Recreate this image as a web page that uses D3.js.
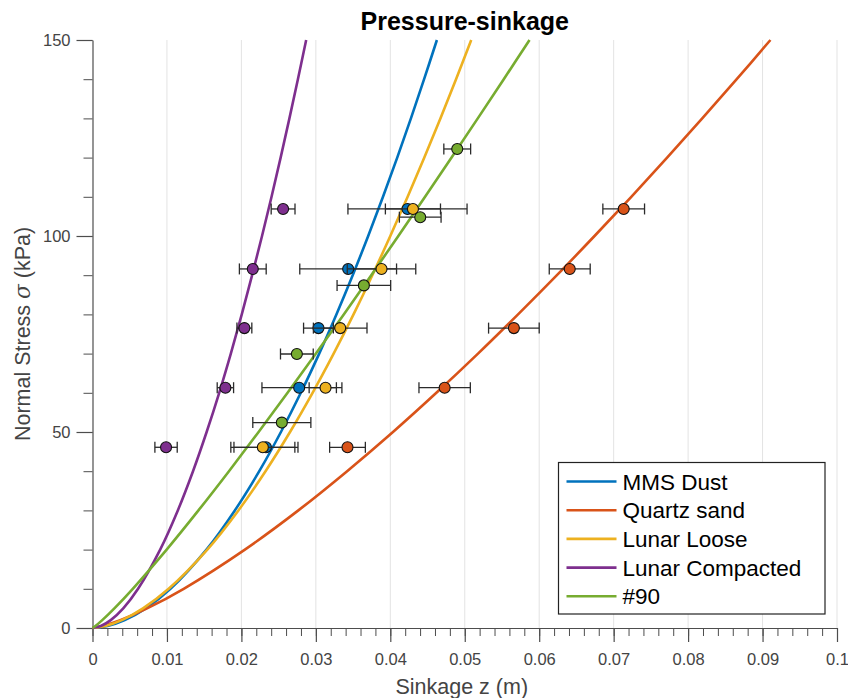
<!DOCTYPE html>
<html>
<head>
<meta charset="utf-8">
<script src="https://cdn.jsdelivr.net/npm/d3@7"></script>
<style>
  body { margin: 0; background: #fff; }
  svg { display: block; font-family: "Liberation Sans", Arial, Helvetica, sans-serif; }
</style>
</head>
<body>
<div id="chart"></div>
<script>
// Series names and colours (MATLAB default order)
const seriesNames = ["MMS Dust", "Quartz sand", "Lunar Loose", "Lunar Compacted", "#90"];
const seriesColors = ["#0072BD", "#D95319", "#EDB120", "#7E2F8E", "#77AC30"];

// Fitted pressure-sinkage curves (sinkage at each stress level)
const curveStress = [0, 0.5, 2, 5, 10, 20, 30, 40, 50, 60, 70, 80, 90, 100, 110, 120, 130, 140, 150];
const mmsCurve = [0, 0.00202, 0.00433, 0.00715, 0.01047, 0.01531, 0.01912, 0.0224, 0.02531, 0.02798, 0.03045, 0.03276, 0.03495, 0.03703, 0.03902, 0.04093, 0.04277, 0.04454, 0.04626];
const quartzCurve = [0, 0.00133, 0.00372, 0.00733, 0.01225, 0.02047, 0.02765, 0.0342, 0.04036, 0.04619, 0.05178, 0.05716, 0.06238, 0.06743, 0.07237, 0.07718, 0.0819, 0.08653, 0.09106];
const looseCurve = [0, 0.00173, 0.00394, 0.00678, 0.01023, 0.01542, 0.0196, 0.02324, 0.02653, 0.02956, 0.03239, 0.03506, 0.03759, 0.04, 0.04233, 0.04457, 0.04673, 0.04883, 0.05087];
const compactCurve = [0, 0.00111, 0.00245, 0.00413, 0.00612, 0.00909, 0.01146, 0.0135, 0.01533, 0.01702, 0.01858, 0.02005, 0.02144, 0.02277, 0.02405, 0.02527, 0.02645, 0.02759, 0.0287];
const no90Curve = [0, 0.00039, 0.00131, 0.00294, 0.00541, 0.00996, 0.01423, 0.01833, 0.02231, 0.0262, 0.03001, 0.03375, 0.03744, 0.04108, 0.04467, 0.04823, 0.05175, 0.05524, 0.0587];

// Measured points: stress (kPa), mean sinkage (m), error half-width (m)
const testStress = [46.1, 61.3, 76.5, 91.6, 106.9];
const no90Stress = [52.4, 69.9, 87.4, 104.8, 122.2];
const mmsSinkage = [0.0233, 0.02776, 0.03035, 0.03434, 0.04231];
const mmsErr = [0.0043, 0.005, 0.002, 0.0065, 0.008];
const quartzSinkage = [0.03425, 0.0473, 0.0566, 0.0641, 0.07135];
const quartzErr = [0.0024, 0.00345, 0.0034, 0.00275, 0.0028];
const looseSinkage = [0.02288, 0.0313, 0.03327, 0.03882, 0.04304];
const looseErr = [0.0043, 0.0022, 0.0036, 0.0046, 0.0037];
const compactSinkage = [0.00988, 0.01785, 0.0204, 0.02153, 0.0256];
const compactErr = [0.0015, 0.0011, 0.001, 0.0018, 0.0016];
const no90Sinkage = [0.02543, 0.02745, 0.03645, 0.04402, 0.04899];
const no90Err = [0.0039, 0.0022, 0.0036, 0.0028, 0.0018];

const xTicks = d3.range(0, 0.1001, 0.01);
const yTicks = [0, 50, 100, 150];

const W = 848, H = 698;
const margin = { top: 40, right: 11, bottom: 70, left: 92.5 };
const width = W - margin.left - margin.right;
const height = H - margin.top - margin.bottom;

const svg = d3.select("#chart").append("svg")
    .attr("width", W)
    .attr("height", H);

const g = svg.append("g")
    .attr("transform", "translate(" + margin.left + "," + margin.top + ")");

const x = d3.scaleLinear().domain([0, 0.1]).range([0, width]);
const y = d3.scaleLinear().domain([0, 150]).range([height, 0]);

const axisColor = "#4d4d4d";

// vertical grid
g.append("g")
    .selectAll("line")
    .data(xTicks.slice(1))
    .enter().append("line")
    .attr("x1", d => x(d)).attr("x2", d => x(d))
    .attr("y1", 0).attr("y2", height)
    .attr("stroke", "#e3e3e3")
    .attr("stroke-width", 1);

// minor ticks
g.append("g")
    .attr("transform", "translate(0," + height + ")")
    .call(d3.axisBottom(x).tickValues(d3.range(0, 0.1001, 0.002)).tickSize(8).tickFormat(""))
    .call(a => a.select(".domain").remove())
    .selectAll("line").attr("stroke", axisColor);

g.append("g")
    .call(d3.axisLeft(y).tickValues(d3.range(0, 151, 10)).tickSize(9).tickFormat(""))
    .call(a => a.select(".domain").remove())
    .selectAll("line").attr("stroke", axisColor);

// major axes
const xAxis = g.append("g")
    .attr("transform", "translate(0," + height + ")")
    .call(d3.axisBottom(x).tickValues(xTicks).tickSize(14).tickPadding(11).tickSizeOuter(0)
        .tickFormat(d => d === 0 ? "0" : d3.format(".2~f")(d).replace(/^0\.10$/, "0.1")));
xAxis.select(".domain").attr("stroke", axisColor).attr("stroke-width", 1.2);
xAxis.selectAll("line").attr("stroke", axisColor).attr("stroke-width", 1.2);
xAxis.selectAll("text").attr("fill", "#444").style("font-size", "16.5px")
    .style("font-family", "Liberation Sans, Arial, sans-serif");

const yAxis = g.append("g")
    .call(d3.axisLeft(y).tickValues(yTicks).tickSize(16).tickPadding(6).tickSizeOuter(0));
yAxis.select(".domain").attr("stroke", axisColor).attr("stroke-width", 1.2);
yAxis.selectAll("line").attr("stroke", axisColor).attr("stroke-width", 1.2);
yAxis.selectAll("text").attr("fill", "#444").style("font-size", "16.5px")
    .style("font-family", "Liberation Sans, Arial, sans-serif");

// curves
const curves = [mmsCurve, quartzCurve, looseCurve, compactCurve, no90Curve];
const line = d3.line()
    .x(d => x(d[0]))
    .y(d => y(d[1]))
    .curve(d3.curveCatmullRom);

curves.forEach((c, i) => {
    g.append("path")
        .datum(c.map((z, k) => [z, curveStress[k]]))
        .attr("d", line)
        .attr("fill", "none")
        .attr("stroke", seriesColors[i])
        .attr("stroke-width", 2.6);
});

// error bars + markers
const pointSets = [
    { s: testStress, z: mmsSinkage, e: mmsErr },
    { s: testStress, z: quartzSinkage, e: quartzErr },
    { s: testStress, z: looseSinkage, e: looseErr },
    { s: testStress, z: compactSinkage, e: compactErr },
    { s: no90Stress, z: no90Sinkage, e: no90Err }
];

pointSets.forEach((set, i) => {
    const pts = set.z.map((z, k) => ({ z: z, p: set.s[k], e: set.e[k] }));
    const eb = g.append("g").attr("stroke", "#2b2b2b").attr("stroke-width", 1.3);
    pts.forEach(d => {
        eb.append("line")
            .attr("x1", x(d.z - d.e)).attr("x2", x(d.z + d.e))
            .attr("y1", y(d.p)).attr("y2", y(d.p));
        [d.z - d.e, d.z + d.e].forEach(v => {
            eb.append("line")
                .attr("x1", x(v)).attr("x2", x(v))
                .attr("y1", y(d.p) - 5.5).attr("y2", y(d.p) + 5.5);
        });
    });
    g.append("g")
        .selectAll("circle")
        .data(pts)
        .enter().append("circle")
        .attr("cx", d => x(d.z))
        .attr("cy", d => y(d.p))
        .attr("r", 5.5)
        .attr("fill", seriesColors[i])
        .attr("stroke", "#111")
        .attr("stroke-width", 1.1);
});

// legend
const legend = svg.append("g").attr("transform", "translate(558.5,462.5)");
legend.append("rect")
    .attr("width", 266.5).attr("height", 151.5)
    .attr("fill", "#fff").attr("stroke", "#222").attr("stroke-width", 1.2);
seriesNames.forEach((name, i) => {
    const cy = 19 + i * 28.7;
    legend.append("line")
        .attr("x1", 8).attr("x2", 58)
        .attr("y1", cy).attr("y2", cy)
        .attr("stroke", seriesColors[i]).attr("stroke-width", 2.6);
    legend.append("text")
        .attr("x", 64).attr("y", cy)
        .attr("dy", "0.36em")
        .attr("fill", "#000")
        .style("font-size", "22.5px")
        .text(name);
});

// title and axis labels
svg.append("text")
    .attr("x", margin.left + width / 2).attr("y", 30)
    .attr("text-anchor", "middle")
    .style("font-size", "25px").style("font-weight", "bold")
    .attr("fill", "#000")
    .text("Pressure-sinkage");

svg.append("text")
    .attr("x", margin.left + width / 2 - 3).attr("y", 694)
    .attr("text-anchor", "middle")
    .style("font-size", "21.5px")
    .attr("fill", "#444")
    .text("Sinkage z (m)");

svg.append("text")
    .attr("transform", "translate(30," + (margin.top + height / 2) + ") rotate(-90)")
    .attr("text-anchor", "middle")
    .style("font-size", "21.5px")
    .attr("fill", "#444")
    .html("Normal Stress <tspan font-style='italic' font-family='DejaVu Serif, serif'>σ</tspan> (kPa)");
</script>
</body>
</html>
